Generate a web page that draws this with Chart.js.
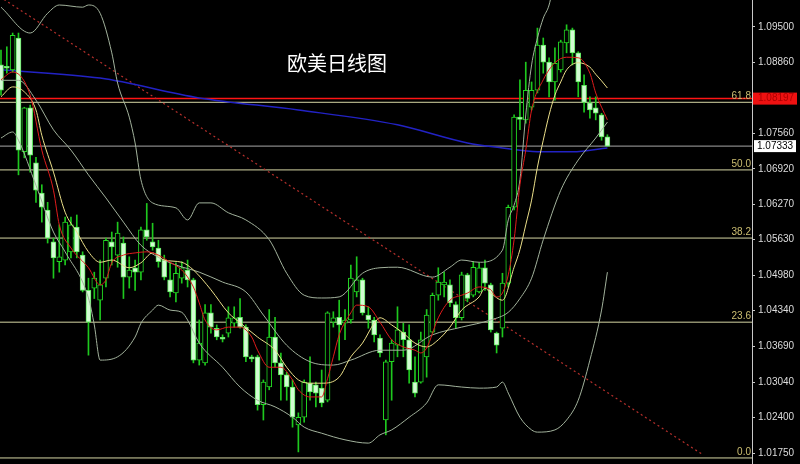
<!DOCTYPE html>
<html>
<head>
<meta charset="utf-8">
<script src="https://cdn.jsdelivr.net/npm/chart.js@4"></script>
<style>
html, body { margin: 0; padding: 0; background: #000; }
#wrap { width: 800px; height: 464px; position: relative; }
</style>
</head>
<body>
<div id="wrap"><canvas id="chart"></canvas></div>
<script>
const title = '欧美日线图';

// --- daily candles, oldest first ---
const opens = [1.0881,1.0877,1.0872,1.0930,1.0723,1.0803,1.0703,1.0648,1.0617,1.0559,
  1.0523,1.0526,1.0541,1.0586,1.0535,1.0471,1.0475,1.0453,1.0493,1.0559,
  1.0535,1.0557,1.0495,1.0512,1.0504,1.0581,1.0559,1.0548,1.0526,1.0490,
  1.0466,1.0493,1.0508,1.0490,1.0344,1.0339,1.0430,1.0402,1.0384,1.0393,
  1.0411,1.0422,1.0404,1.0350,1.0350,1.0263,1.0295,1.0386,1.0339,1.0317,
  1.0295,1.0226,1.0240,1.0302,1.0299,1.0293,1.0271,1.0413,1.0422,1.0411,
  1.0417,1.0468,1.0490,1.0426,1.0417,1.0384,1.0235,1.0341,1.0371,1.0395,
  1.0381,1.0304,1.0304,1.0350,1.0395,1.0462,1.0481,1.0481,1.0445,1.0421,
  1.0499,1.0462,1.0468,1.0512,1.0481,1.0393,1.0402,1.0484,1.0622,1.0786,
  1.0781,1.0804,1.0835,1.0917,1.0886,1.0850,1.0872,1.0921,1.0945,1.0903,
  1.0844,1.0812,1.0803,1.0790,1.0750];
const highs = [1.0908,1.0914,1.0939,1.0939,1.0804,1.0808,1.0713,1.0663,1.0631,1.0566,
  1.0590,1.0604,1.0604,1.0608,1.0541,1.0493,1.0504,1.0526,1.0566,1.0577,
  1.0595,1.0568,1.0532,1.0526,1.0586,1.0629,1.0593,1.0562,1.0535,1.0521,
  1.0521,1.0523,1.0526,1.0493,1.0417,1.0445,1.0445,1.0408,1.0390,1.0441,
  1.0441,1.0456,1.0408,1.0353,1.0353,1.0308,1.0436,1.0422,1.0357,1.0322,
  1.0308,1.0248,1.0308,1.0350,1.0304,1.0326,1.0432,1.0432,1.0453,1.0436,
  1.0517,1.0532,1.0493,1.0441,1.0422,1.0390,1.0344,1.0381,1.0441,1.0411,
  1.0408,1.0350,1.0395,1.0436,1.0466,1.0512,1.0504,1.0490,1.0450,1.0504,
  1.0502,1.0523,1.0521,1.0526,1.0484,1.0395,1.0502,1.0626,1.0790,1.0854,
  1.0886,1.0850,1.0948,1.0930,1.0894,1.0912,1.0926,1.0954,1.0948,1.0905,
  1.0863,1.0823,1.0823,1.0793,1.0754];
const lows = [1.0826,1.0866,1.0868,1.0681,1.0712,1.0686,1.0631,1.0595,1.0557,1.0493,
  1.0504,1.0517,1.0530,1.0530,1.0468,1.0353,1.0456,1.0417,1.0477,1.0517,
  1.0513,1.0456,1.0475,1.0471,1.0490,1.0562,1.0544,1.0513,1.0490,1.0459,
  1.0450,1.0484,1.0477,1.0339,1.0335,1.0335,1.0393,1.0381,1.0377,1.0386,
  1.0404,1.0402,1.0341,1.0341,1.0253,1.0235,1.0290,1.0331,1.0271,1.0271,
  1.0222,1.0177,1.0231,1.0271,1.0259,1.0259,1.0268,1.0404,1.0344,1.0381,
  1.0411,1.0459,1.0426,1.0402,1.0377,1.0350,1.0208,1.0271,1.0350,1.0350,
  1.0302,1.0277,1.0302,1.0313,1.0393,1.0453,1.0459,1.0441,1.0402,1.0417,
  1.0450,1.0459,1.0466,1.0471,1.0395,1.0357,1.0386,1.0477,1.0617,1.0763,
  1.0775,1.0799,1.0830,1.0866,1.0823,1.0817,1.0868,1.0903,1.0881,1.0823,
  1.0795,1.0784,1.0781,1.0744,1.0733];
const closes = [1.0835,1.0875,1.0935,1.0726,1.0803,1.0717,1.0653,1.0622,1.0566,1.0530,
  1.0532,1.0595,1.0590,1.0541,1.0471,1.0413,1.0493,1.0481,1.0562,1.0550,
  1.0575,1.0495,1.0508,1.0504,1.0581,1.0568,1.0550,1.0523,1.0495,1.0468,
  1.0502,1.0512,1.0490,1.0344,1.0375,1.0430,1.0404,1.0386,1.0382,1.0421,
  1.0421,1.0404,1.0350,1.0346,1.0263,1.0304,1.0386,1.0339,1.0317,1.0295,
  1.0240,1.0240,1.0304,1.0286,1.0284,1.0266,1.0430,1.0421,1.0408,1.0417,
  1.0493,1.0490,1.0430,1.0417,1.0390,1.0357,1.0341,1.0375,1.0399,1.0381,
  1.0326,1.0284,1.0381,1.0426,1.0462,1.0486,1.0486,1.0448,1.0421,1.0499,
  1.0456,1.0513,1.0512,1.0484,1.0399,1.0371,1.0484,1.0622,1.0786,1.0782,
  1.0835,1.0835,1.0917,1.0886,1.0850,1.0884,1.0923,1.0945,1.0903,1.0850,
  1.0813,1.0799,1.0793,1.0750,1.07333];

// --- indicator lines as [bar index, price] ---
const maFast = [[0,1.0854],[2,1.0868],[5,1.0826],[7,1.0726],[9,1.0653],[10,1.0590],[12,1.0548],[15,1.0512],
  [17,1.0481],[18,1.0490],[19,1.0521],[21,1.0535],[23,1.0539],[25,1.0541],[27,1.0535],[29,1.0522],[31,1.0508],
  [33,1.0477],[34,1.0448],[35,1.0417],[37,1.0399],[39,1.0404],[41,1.0404],[43,1.0386],[44,1.0362],[46,1.0331],
  [48,1.0331],[50,1.0308],[51,1.0290],[53,1.0277],[55,1.0277],[56,1.0310],[57,1.0350],[58,1.0390],[60,1.0430],
  [61,1.0444],[63,1.0441],[65,1.0413],[67,1.0381],[69,1.0368],[71,1.0362],[72,1.0357],[73,1.0366],[75,1.0421],
  [77,1.0453],[79,1.0462],[80,1.0466],[82,1.0477],[84,1.0472],[85,1.0459],[86,1.0466],[87,1.0499],[88,1.0563],
  [89,1.0663],[90,1.0726],[91,1.0799],[93,1.0854],[95,1.0885],[97,1.0895],[99,1.0894],[101,1.0866],[102,1.0830],[104,1.0781]];
const maSlow = [[0,1.0823],[2,1.0841],[4,1.0832],[6,1.0799],[7,1.0753],[9,1.0686],[11,1.0613],[13,1.0577],
  [15,1.0541],[17,1.0522],[19,1.0526],[22,1.0512],[24,1.0521],[26,1.0539],[28,1.0526],[31,1.0522],[33,1.0508],
  [36,1.0472],[39,1.0430],[41,1.0412],[44,1.0386],[47,1.0362],[49,1.0331],[51,1.0308],[53,1.0302],[55,1.0302],
  [58,1.0313],[60,1.0350],[62,1.0375],[64,1.0411],[65,1.0421],[67,1.0408],[69,1.0393],[71,1.0375],[73,1.0368],
  [75,1.0381],[77,1.0404],[79,1.0435],[82,1.0459],[83,1.0475],[84,1.0466],[86,1.0453],[88,1.0513],[89,1.0545],
  [90,1.0590],[91,1.0635],[92,1.0695],[93,1.0744],[94,1.0790],[95,1.0826],[96,1.0850],[97,1.0872],[99,1.0885],
  [101,1.0877],[102,1.0864],[103,1.0852],[104,1.0839]];
const bollMid = [[0,1.0853],[3,1.0853],[6,1.0817],[9,1.0763],[12,1.0726],[15,1.0681],[18,1.0639],[21,1.0595],
  [24,1.0553],[27,1.0531],[30,1.0517],[34,1.0504],[38,1.0486],[42,1.0468],[45,1.0426],[49,1.0371],[53,1.0341],
  [57,1.0335],[60,1.0344],[65,1.0362],[69,1.0362],[74,1.0390],[79,1.0404],[84,1.0417],[87,1.0431],[89,1.0456],
  [91,1.0493],[93,1.0563],[96,1.0653],[99,1.0708],[102,1.0748],[104,1.0777]];
const bollUp = [[0,1.0986],[5,1.0939],[8,1.0975],[10,1.0990],[14,1.0986],[15,1.0990],[17,1.0975],[19,1.0903],
  [20,1.0848],[22,1.0786],[23,1.0739],[24,1.0672],[26,1.0630],[30,1.0621],[32,1.0599],[34,1.0630],[36,1.0630],
  [39,1.0612],[42,1.0599],[46,1.0563],[49,1.0502],[52,1.0462],[55,1.0457],[58,1.0459],[62,1.0502],[65,1.0512],
  [68,1.0513],[74,1.0495],[77,1.0513],[79,1.0526],[82,1.0522],[86,1.0544],[87,1.0599],[88,1.0626],[89,1.0672],
  [90,1.0790],[91,1.0881],[92,1.0930],[93,1.0966],[94,1.0990],[95,1.1040],[97,1.1120],[99,1.1145],[101,1.1120],[104,1.1050]];
const bollLow = [[0,1.0748],[2,1.0759],[3,1.0744],[6,1.0662],[9,1.0577],[11,1.0541],[15,1.0457],[16,1.0408],
  [17,1.0344],[20,1.0350],[23,1.0386],[24,1.0411],[26,1.0435],[27,1.0444],[29,1.0435],[31,1.0431],[32,1.0417],
  [34,1.0375],[38,1.0331],[41,1.0295],[44,1.0271],[47,1.0259],[50,1.0240],[52,1.0222],[55,1.0211],[59,1.0199],
  [63,1.0193],[65,1.0208],[67,1.0217],[70,1.0240],[73,1.0266],[75,1.0299],[79,1.0295],[82,1.0293],[85,1.0295],
  [86,1.0304],[87,1.0284],[89,1.0240],[91,1.0217],[92,1.0213],[95,1.0217],[97,1.0235],[99,1.0271],[101,1.0344],
  [103,1.0435],[104,1.0504]];
const maLong = [[0,1.0872],[17,1.0857],[34,1.0821],[51,1.0799],[68,1.0772],[80,1.0739],[86,1.0730],[92,1.0723],
  [98,1.0723],[104,1.0730]];
const trendLine = [[-0.2,1.1005],[120.5,1.0171]];

// --- horizontal levels ---
const fibLabels = ['61.8', '50.0', '38.2', '23.6', '0.0'];
const fibPrices = [1.0813, 1.0690, 1.0566, 1.0413, 1.0166];
const redLevel = 1.08197;
const lastPrice = 1.07333;

// --- right axis ---
const yTicks = [1.09500, 1.08860, 1.08210, 1.07560, 1.06920, 1.06270, 1.05630,
  1.04980, 1.04340, 1.03690, 1.03040, 1.02400, 1.01750];
const yMin = 1.0155, yMax = 1.09991;
const xMin = -0.17, xMax = 128.8;

const bars = opens.map((_, i) => i);
const isUp = i => closes[i] >= opens[i];

function lineSet(points, color, width, order, extra) {
  return Object.assign({
    type: 'line',
    data: points.map(p => ({ x: p[0], y: p[1] })),
    borderColor: color,
    borderWidth: width,
    pointRadius: 0,
    cubicInterpolationMode: 'monotone',
    order: order
  }, extra || {});
}
function levelSet(price, color, width) {
  return lineSet([[xMin - 1, price], [xMax + 1, price]], color, width, 8);
}

const overlay = {
  id: 'overlay',
  afterDraw(chart) {
    const { ctx, chartArea, scales: { y } } = chart;
    ctx.save();
    // fib labels above their lines
    ctx.font = '10px "Liberation Sans"';
    ctx.fillStyle = '#cdbf72';
    ctx.textAlign = 'right';
    ctx.textBaseline = 'bottom';
    fibPrices.forEach((p, i) => ctx.fillText(fibLabels[i], chartArea.right - 1, y.getPixelForValue(p) - 1));

    // price tags on the axis
    ctx.textAlign = 'left';
    ctx.textBaseline = 'middle';
    let py = y.getPixelForValue(redLevel);
    ctx.fillStyle = '#ee1111';
    ctx.fillRect(chartArea.right + 1, py - 6, 44, 12);
    ctx.fillStyle = '#b00000';
    ctx.fillText(redLevel.toFixed(5), chartArea.right + 6, py);
    py = y.getPixelForValue(lastPrice);
    ctx.fillStyle = '#ffffff';
    ctx.fillRect(chartArea.right + 2, py - 6, 42, 12);
    ctx.fillStyle = '#000000';
    ctx.fillText(lastPrice.toFixed(5), chartArea.right + 5, py);

    // title
    ctx.font = '20px "Noto Sans CJK SC"';
    ctx.fillStyle = '#ffffff';
    ctx.textAlign = 'center';
    ctx.fillText(title, chartArea.left + chartArea.width * 0.448, 63);
    ctx.restore();
  }
};

new Chart(document.getElementById('chart'), {
  type: 'bar',
  data: {
    datasets: [
      ...fibPrices.map(p => levelSet(p, '#d6d6a4', 1)),
      levelSet(lastPrice, '#a8a8a8', 1),
      levelSet(redLevel, '#ff1414', 1.5),
      lineSet(trendLine, '#b8302c', 1.2, 7, { borderDash: [2, 3], cubicInterpolationMode: 'default', tension: 0 }),
      lineSet(maLong, '#2222c4', 1.5, 6),
      {
        type: 'bar',
        data: bars.map(i => ({ x: i, y: [lows[i], highs[i]] })),
        backgroundColor: '#1ec81e',
        barThickness: 1,
        grouped: false,
        order: 5
      },
      {
        type: 'bar',
        data: bars.map(i => ({ x: i, y: [opens[i], closes[i]] })),
        backgroundColor: c => isUp(c.dataIndex) ? '#000000' : '#d2fcd2',
        borderColor: c => isUp(c.dataIndex) ? '#22d622' : '#5ee85e',
        borderWidth: 1,
        borderSkipped: false,
        barThickness: 5,
        minBarLength: 2,
        grouped: false,
        order: 4
      },
      lineSet(bollUp, '#a2b29c', 1, 3),
      lineSet(bollMid, '#a2b29c', 1, 3),
      lineSet(bollLow, '#a2b29c', 1, 3),
      lineSet(maSlow, '#ece08a', 1, 2),
      lineSet(maFast, '#e01c1c', 1, 1)
    ]
  },
  options: {
    responsive: true,
    maintainAspectRatio: false,
    animation: false,
    events: [],
    layout: { padding: 0, autoPadding: false },
    plugins: { legend: { display: false }, tooltip: { enabled: false } },
    scales: {
      x: { type: 'linear', min: xMin, max: xMax, offset: false, display: false },
      y: {
        position: 'right',
        min: yMin,
        max: yMax,
        afterFit: s => { s.width = 48; s.paddingTop = 0; s.paddingBottom = 0; },
        afterBuildTicks: s => { s.ticks = yTicks.map(v => ({ value: v })); },
        grid: { drawOnChartArea: false, color: '#c8c8c8', tickLength: 3 },
        border: { display: true, color: '#c8c8c8' },
        ticks: {
          color: '#dcdcdc',
          padding: 3,
          font: { family: 'Liberation Sans', size: 10 },
          callback: v => Number(v).toFixed(5)
        }
      }
    }
  },
  plugins: [overlay]
});
</script>
</body>
</html>
